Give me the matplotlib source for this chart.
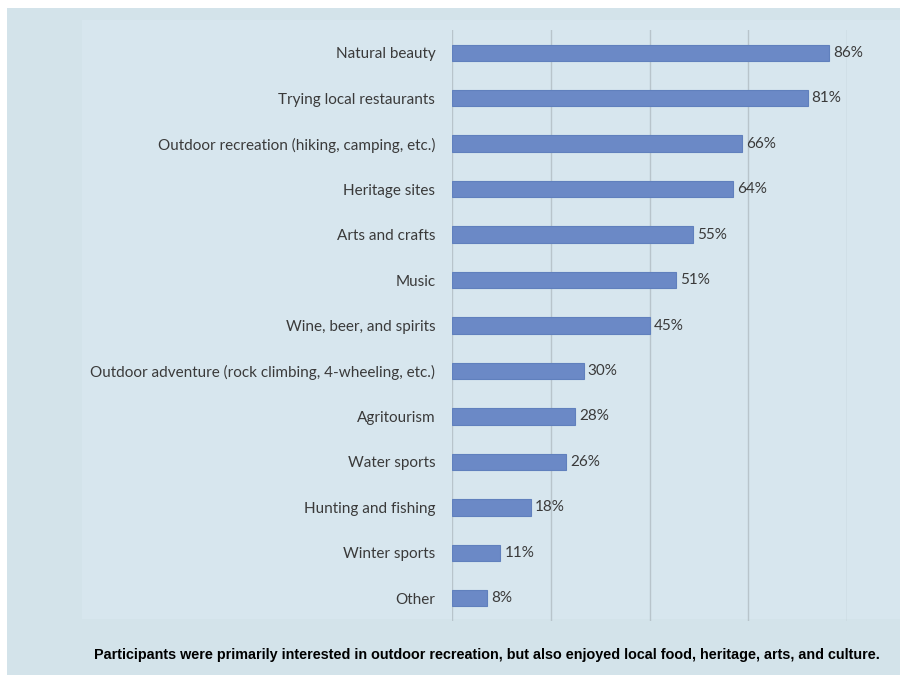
import matplotlib.pyplot as plt
from matplotlib.patches import Rectangle

categories = ["Natural beauty", "Trying local restaurants",
              "Outdoor recreation (hiking, camping, etc.)", "Heritage sites",
              "Arts and crafts", "Music", "Wine, beer, and spirits",
              "Outdoor adventure (rock climbing, 4-wheeling, etc.)",
              "Agritourism", "Water sports", "Hunting and fishing",
              "Winter sports", "Other"]
values = [86, 81, 66, 64, 55, 51, 45, 30, 28, 26, 18, 11, 8]
grid_vals = [0, 22.5, 45, 67.5, 90]
caption = ("Participants were primarily interested in outdoor recreation, "
           "but also enjoyed local food, heritage, arts, and culture.")

fig = plt.figure(figsize=(9, 6.77), dpi=100)
fig.patch.set_facecolor("white")
# outer blue panel and slightly lighter chart area
fig.add_artist(Rectangle((7/900, 2/677), 893/900, 667/677, transform=fig.transFigure,
                         facecolor="#d3e3ea", edgecolor="none", zorder=-10))
fig.add_artist(Rectangle((82/900, 58/677), 818/900, 599/677, transform=fig.transFigure,
                         facecolor="#d7e6ee", edgecolor="none", zorder=-9))

ax = fig.add_axes([452/900, 1 - 621/677, 395/900, 591/677])
ax.set_facecolor("none")
ax.set_zorder(1)

y = list(range(len(categories)))
ax.barh(y, values, height=0.36, color="#6b89c6", edgecolor="#6080bd", linewidth=0.8, zorder=3)
for yi, v in zip(y, values):
    ax.annotate(f"{v}%", (v, yi), xytext=(3, 0), textcoords="offset points",
                va="center", ha="left", fontsize=11, color="#3a3a3a", family="Lato")

ax.set_xlim(0, 90)
ax.set_ylim(len(categories) - 0.5, -0.5)
ax.set_xticks(grid_vals)
ax.set_xticklabels([])
ax.tick_params(axis="x", length=0)
ax.grid(axis="x", color="#b8c4cb", linewidth=1, zorder=0)
ax.set_yticks(y)
ax.set_yticklabels(categories, fontsize=11, color="#3a3a3a", family="Lato")
ax.tick_params(axis="y", length=0, pad=12)
for s in ax.spines.values():
    s.set_visible(False)

fig.text(880/900, 1 - 655/677, caption, ha="right", va="center", fontsize=10.35,
         fontweight="bold", color="black", family="Liberation Sans")

fig.savefig("out.png", dpi=100)
